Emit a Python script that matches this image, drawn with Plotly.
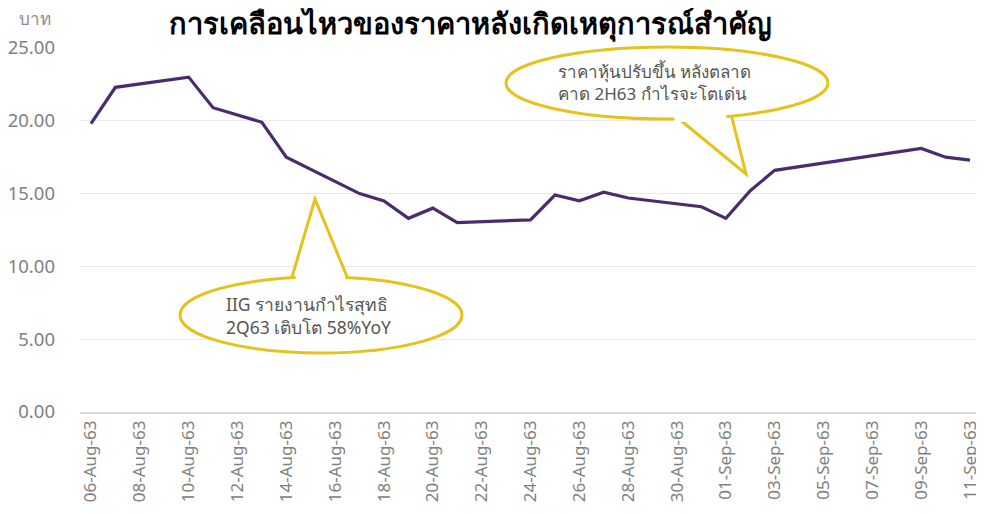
import plotly.graph_objects as go

# ---- data ----
dates = ["2020-08-06", "2020-08-07", "2020-08-10", "2020-08-11", "2020-08-13",
         "2020-08-14", "2020-08-17", "2020-08-18", "2020-08-19", "2020-08-20",
         "2020-08-21", "2020-08-24", "2020-08-25", "2020-08-26", "2020-08-27",
         "2020-08-28", "2020-08-31", "2020-09-01", "2020-09-02", "2020-09-03",
         "2020-09-09", "2020-09-10", "2020-09-11"]
prices = [19.8, 22.3, 23.0, 20.9, 19.9,
          17.5, 15.0, 14.5, 13.3, 14.0,
          13.0, 13.2, 14.9, 14.5, 15.1,
          14.7, 14.1, 13.3, 15.2, 16.6,
          18.1, 17.5, 17.3]
tick_dates = ["2020-08-06", "2020-08-08", "2020-08-10", "2020-08-12", "2020-08-14",
              "2020-08-16", "2020-08-18", "2020-08-20", "2020-08-22", "2020-08-24",
              "2020-08-26", "2020-08-28", "2020-08-30", "2020-09-01", "2020-09-03",
              "2020-09-05", "2020-09-07", "2020-09-09", "2020-09-11"]
tick_labels = ["06-Aug-63", "08-Aug-63", "10-Aug-63", "12-Aug-63", "14-Aug-63",
               "16-Aug-63", "18-Aug-63", "20-Aug-63", "22-Aug-63", "24-Aug-63",
               "26-Aug-63", "28-Aug-63", "30-Aug-63", "01-Sep-63", "03-Sep-63",
               "05-Sep-63", "07-Sep-63", "09-Sep-63", "11-Sep-63"]
y_ticks = [0, 5, 10, 15, 20, 25]

title_text = "การเคลื่อนไหวของราคาหลังเกิดเหตุการณ์สำคัญ"
unit_text = "บาท"
note1 = "IIG รายงานกำไรสุทธิ<br>2Q63 เติบโต 58%YoY"
note2 = "ราคาหุ้นปรับขึ้น หลังตลาด<br>คาด 2H63 กำไรจะโตเด่น"

# ---- layout geometry (page body has an 8px margin) ----
OFF = 8
W, H = 984 - OFF, 514 - OFF
PL, PR, PT, PB = 80, 984, 48, 412   # plot area in screenshot pixels
ML = PL - OFF
MT = PT - OFF
MB = H - (PB - OFF)
MR = W - (PR - OFF)
PW, PH = W - ML - MR, H - MT - MB

def px(x):
    return (x - OFF - ML) / PW

def py(y):
    return (H - MB - (y - OFF)) / PH

FONT = "Noto Sans, Tahoma, DejaVu Sans, sans-serif"
YEL = "#e6c21c"
LINE = "#4a2c6e"

fig = go.Figure()
fig.add_trace(go.Scatter(x=dates, y=prices, mode="lines",
                         line=dict(color=LINE, width=3.2), hoverinfo="x+y"))

shapes = []

def bubble(cx, cy, rx, ry, base_l, base_r, tip):
    shapes.append(dict(type="path", xref="paper", yref="paper",
                       path=f"M {px(base_l[0])},{py(base_l[1])} L {px(tip[0])},{py(tip[1])} L {px(base_r[0])},{py(base_r[1])} Z",
                       fillcolor="white", line=dict(color=YEL, width=3), layer="above"))
    shapes.append(dict(type="circle", xref="paper", yref="paper",
                       x0=px(cx - rx), x1=px(cx + rx), y0=py(cy + ry), y1=py(cy - ry),
                       fillcolor="white", line=dict(color=YEL, width=3), layer="above"))

# bottom-left bubble (tail points up)
bubble(321, 315, 141, 38, (290, 284), (350, 284), (315, 199))
shapes.append(dict(type="path", xref="paper", yref="paper",
                   path=f"M {px(294)},{py(290)} L {px(296)},{py(275)} L {px(345)},{py(275)} L {px(347)},{py(290)} Z",
                   fillcolor="white", line=dict(width=0), layer="above"))
# top-right bubble (tail points down)
bubble(667, 83, 161, 36, (668, 110), (730, 110), (746, 174))
shapes.append(dict(type="path", xref="paper", yref="paper",
                   path=f"M {px(672)},{py(106)} L {px(675)},{py(122)} L {px(726)},{py(122)} L {px(727)},{py(106)} Z",
                   fillcolor="white", line=dict(width=0), layer="above"))

annotations = [
    dict(text=f"<b>{title_text}</b>", xref="paper", yref="paper",
         x=px(470), y=py(22), xanchor="center", yanchor="middle", showarrow=False,
         font=dict(size=29, color="#000000", family=FONT)),
    dict(text=unit_text, xref="paper", yref="paper", x=px(35), y=py(18),
         xanchor="center", yanchor="middle",
         showarrow=False, font=dict(size=17, color="#8a8a8a", family=FONT)),
    dict(text=note1, xref="paper", yref="paper", x=px(224), y=py(315),
         xanchor="left", yanchor="middle", align="left", showarrow=False,
         font=dict(size=17.5, color="#555555", family=FONT)),
    dict(text=note2, xref="paper", yref="paper", x=px(556), y=py(82),
         xanchor="left", yanchor="middle", align="left", showarrow=False,
         font=dict(size=17, color="#555555", family=FONT)),
]

fig.update_layout(
    width=W, height=H,
    margin=dict(l=ML, r=MR, t=MT, b=MB, autoexpand=False),
    paper_bgcolor="white", plot_bgcolor="white",
    showlegend=False,
    shapes=shapes, annotations=annotations,
    font=dict(family=FONT, color="#777777"),
    xaxis=dict(type="date", range=["2020-08-05 13:13", "2020-09-11 13:43"],
               tickvals=tick_dates, ticktext=tick_labels, tickangle=-90,
               showgrid=False, showline=True, linecolor="#d9d9d9", linewidth=1.5,
               ticks="", tickfont=dict(size=17, color="#808080"),
               zeroline=False, fixedrange=True, automargin=False),
    yaxis=dict(range=[0, 25], tickvals=y_ticks, tickformat=".2f",
               showgrid=True, gridcolor="#e9e9e9", gridwidth=1,
               zeroline=False, showline=False, ticks="",
               ticklabelstandoff=24, automargin=False,
               tickfont=dict(size=18.5, color="#808080"), fixedrange=True),
)

fig.write_html("out.html")
